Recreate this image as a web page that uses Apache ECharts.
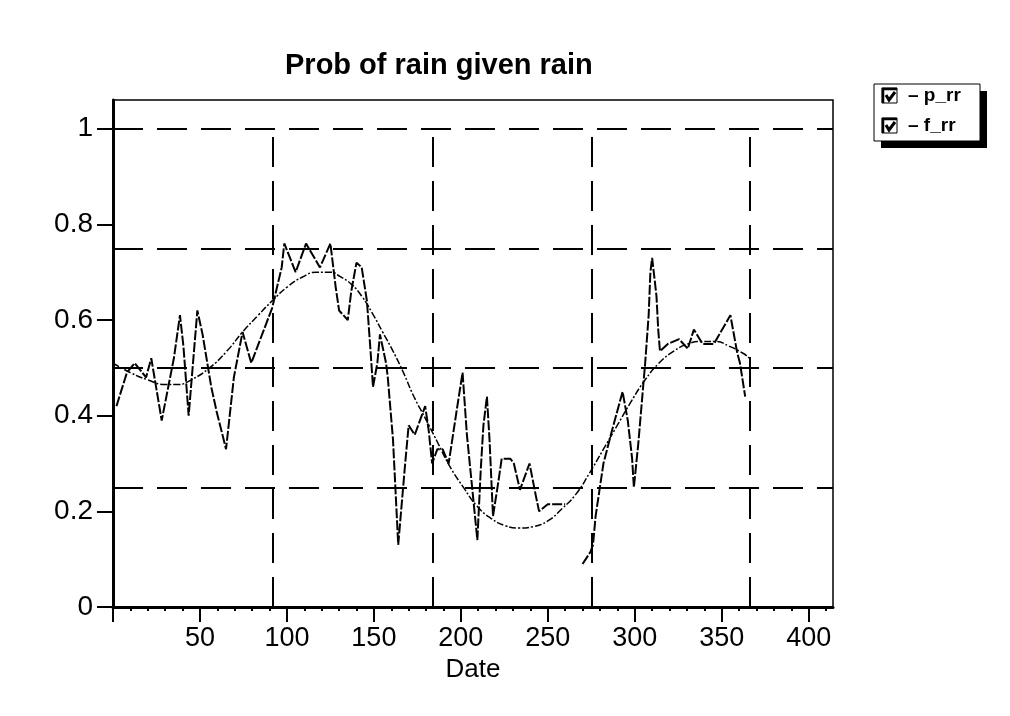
<!DOCTYPE html>
<html>
<head>
<meta charset="utf-8">
<script src="https://cdn.jsdelivr.net/npm/echarts@6/dist/echarts.min.js"></script>
<style>
  html, body { margin: 0; padding: 0; background: #fff; }
  #main { width: 1010px; height: 716px; }
</style>
</head>
<body>
<div id="main"></div>
<script>
// observed prob of rain given rain (p_rr), null = missing days
const pDay = [2, 8, 12.5, 19, 22, 28, 35, 38.5, 40.5, 43.5, 48.5, 51.5, 56.5, 59.5, 65, 69.5, 74.5, 79.5, 91.5, 97,
  98.5, 105, 111, 119, 125, 127, 128, 130, 135, 137, 140, 143, 146, 148, 149.5, 152, 153.5, 157, 158, 161,
  164, 168, 170, 173.5, 179.5, 181.5, 183.5, 186.5, 189.5, 193, 198, 201, 203.5, 206.5, 209.5, 211.5, 213, 215, 216.5, 218.5,
  221.5, 223.5, 228.5, 230.5, 234, 239.5, 243, 245, 250, 260, 265, 270, 274.5, 276, 277.5, 282, 287, 293, 296, 298.5,
  299.5, 302, 306, 308, 309, 310, 312.5, 313.5, 314.5, 319, 325.5, 330.5, 334, 339, 345.5, 355, 359, 360.5, 363.5];
const pVal = [0.42, 0.49, 0.51, 0.48, 0.52, 0.39, 0.52, 0.61, 0.545, 0.40, 0.62, 0.57, 0.46, 0.41, 0.33, 0.48, 0.575, 0.51, 0.625, 0.71,
  0.76, 0.70, 0.76, 0.71, 0.76, 0.70, 0.67, 0.62, 0.60, 0.66, 0.72, 0.71, 0.64, 0.54, 0.46, 0.51, 0.57, 0.51, 0.48, 0.35,
  0.13, 0.30, 0.38, 0.36, 0.42, 0.37, 0.30, 0.33, 0.33, 0.30, 0.42, 0.49, 0.36, 0.25, 0.14, 0.29, 0.38, 0.44, 0.35, 0.19,
  0.26, 0.31, 0.31, 0.30, 0.245, 0.30, 0.235, 0.20, 0.215, 0.215, null, 0.09, 0.115, 0.13, 0.19, 0.30, 0.37, 0.45, 0.39, 0.31,
  0.25, 0.34, 0.51, 0.61, 0.70, 0.73, 0.65, 0.58, 0.535, 0.55, 0.56, 0.54, 0.58, 0.55, 0.55, 0.61, 0.53, 0.51, 0.44];

// fitted curve (f_rr)
const fDay = [0, 10, 20, 30, 37, 45, 55.5, 65.5, 74.5, 83.5, 91.5, 100.5, 109, 117, 125, 131, 137, 143, 149, 155,
  161, 167, 173, 179.5, 186.5, 193.5, 201.5, 209.5, 217.5, 225.5, 233.5, 241.5, 250, 258, 266, 274, 282, 290, 298, 306,
  314, 322.5, 330.5, 338.5, 346.5, 354.5, 362.5, 366];
const fVal = [0.51, 0.49, 0.475, 0.465, 0.465, 0.475, 0.50, 0.535, 0.575, 0.61, 0.64, 0.67, 0.69, 0.70, 0.70, 0.69, 0.675, 0.65, 0.615, 0.575,
  0.535, 0.49, 0.44, 0.395, 0.345, 0.295, 0.25, 0.21, 0.185, 0.17, 0.165, 0.168, 0.18, 0.205, 0.235, 0.28, 0.33, 0.38, 0.43, 0.475,
  0.51, 0.535, 0.55, 0.555, 0.555, 0.545, 0.53, 0.52];

const xTicks = [0, 50, 100, 150, 200, 250, 300, 350, 400];
const xLabels = [50, 100, 150, 200, 250, 300, 350, 400];
const xMinor = [10, 20, 30, 40, 60, 70, 80, 90, 110, 120, 130, 140, 160, 170, 180, 190, 210, 220, 230, 240,
  260, 270, 280, 290, 310, 320, 330, 340, 360, 370, 380, 390, 410];
const yTicks = [0, 0.2, 0.4, 0.6, 0.8, 1];
const gridX = [92, 184, 275, 366];   // quarter lines
const gridY = [0.25, 0.5, 0.75, 1];

const FONT = 'Liberation Sans';
const X_MAX = 414;
const zip = (a, b) => a.map((v, i) => [v, b[i]]);

let chart = echarts.init(document.getElementById('main'));

// legend box drawn by hand (checkbox look)
function checkBox(y) {
  return [
    { type: 'rect', shape: { x: 882, y: y, width: 15, height: 15 }, style: { fill: '#fff', stroke: '#000', lineWidth: 1 } },
    { type: 'polyline', shape: { points: [[883, y + 15], [883, y + 1], [897, y + 1]] }, style: { stroke: '#000', lineWidth: 2.5, fill: null } },
    { type: 'polyline', shape: { points: [[886, y + 7], [889, y + 12], [895, y + 4]] }, style: { stroke: '#000', lineWidth: 3, fill: null } }
  ];
}

let option = {
  animation: false,
  backgroundColor: '#fff',
  title: {
    text: 'Prob of rain given rain',
    left: 280,
    top: 46,
    textStyle: { fontFamily: FONT, fontSize: 29, fontWeight: 'bold', color: '#000' }
  },
  grid: {
    left: 113, right: 177, top: 100, bottom: 109,
    show: true, borderColor: '#000', borderWidth: 1.5, backgroundColor: 'transparent'
  },
  xAxis: [
    {
      type: 'value',
      min: 0, max: X_MAX, interval: 50,
      name: 'Date', nameLocation: 'middle', nameGap: 46,
      nameTextStyle: { fontFamily: FONT, fontSize: 26, color: '#000' },
      axisLine: { show: true, lineStyle: { color: '#000', width: 3 } },
      axisTick: { show: true, length: 15, customValues: xTicks, lineStyle: { color: '#000', width: 2 } },
      axisLabel: { customValues: xLabels, fontFamily: FONT, fontSize: 27, color: '#000', margin: 18 },
      splitLine: { show: false }
    },
    {
      // minor ticks along the bottom
      type: 'value', position: 'bottom',
      min: 0, max: X_MAX,
      axisLine: { show: false },
      axisTick: { show: true, length: 4, customValues: xMinor, lineStyle: { color: '#000', width: 2 } },
      axisLabel: { show: false },
      splitLine: { show: false }
    }
  ],
  yAxis: {
    type: 'value',
    min: 0, max: 1.06, interval: 0.2,
    axisLine: { show: true, lineStyle: { color: '#000', width: 3 } },
    axisTick: { show: true, length: 16, customValues: yTicks, lineStyle: { color: '#000', width: 2 } },
    axisLabel: { customValues: yTicks, fontFamily: FONT, fontSize: 28, color: '#000', margin: 20 },
    splitLine: { show: false }
  },
  graphic: [
    { type: 'rect', shape: { x: 881, y: 91, width: 106, height: 57 }, style: { fill: '#000' } },
    { type: 'rect', shape: { x: 874, y: 84, width: 106, height: 57 }, style: { fill: '#fff', stroke: '#000', lineWidth: 1 } },
    ...checkBox(88),
    ...checkBox(118),
    { type: 'text', x: 908, y: 96, style: { text: '– p_rr', font: 'bold 19px "Liberation Sans"', fill: '#000', verticalAlign: 'middle' } },
    { type: 'text', x: 908, y: 126, style: { text: '– f_rr', font: 'bold 19px "Liberation Sans"', fill: '#000', verticalAlign: 'middle' } }
  ],
  series: [
    {
      name: 'grid',
      type: 'line',
      data: [],
      silent: true,
      markLine: {
        silent: true,
        symbol: ['none', 'none'],
        label: { show: false },
        lineStyle: { color: '#000', type: [30, 14], width: 2 },
        data: [
          ...gridY.map(v => ({ yAxis: v })),
          ...gridX.map(d => [{ coord: [d, 0] }, { coord: [d, 1] }])
        ]
      }
    },
    {
      name: 'f_rr',
      type: 'line',
      data: zip(fDay, fVal),
      smooth: true,
      showSymbol: false,
      lineStyle: { color: '#000', width: 1.5, type: [7, 2, 2, 2] }
    },
    {
      name: 'p_rr',
      type: 'line',
      data: zip(pDay, pVal),
      showSymbol: false,
      connectNulls: false,
      lineStyle: { color: '#000', width: 2, type: [10, 2] }
    }
  ]
};
chart.setOption(option);
</script>
</body>
</html>
